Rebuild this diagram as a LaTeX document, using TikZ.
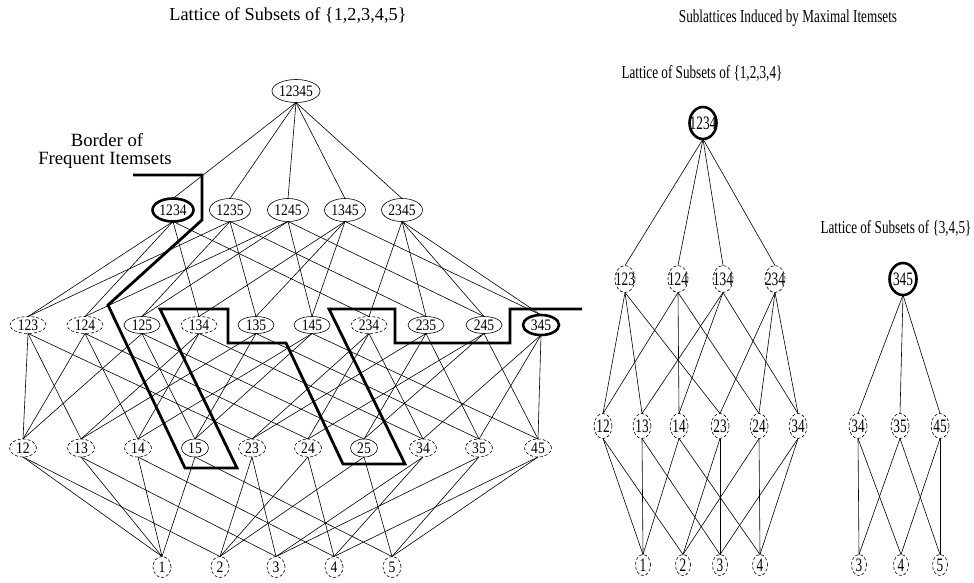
\documentclass[tikz,border=0pt]{standalone}
\usepackage{fontspec}
\usepackage{graphicx}
\setmainfont{Liberation Serif}
\usetikzlibrary{shapes.geometric}
\newcommand\LT[1]{\makebox[0pt]{\scalebox{0.85}[1]{#1}}}
\newcommand\RT[1]{\makebox[0pt]{\scalebox{0.7}[1]{#1}}}
\begin{document}
\begin{tikzpicture}[x=1pt,y=-1pt,
  base/.style={ellipse,draw,inner sep=0pt,outer sep=0pt},
  inf/.style={base,line width=0.6pt},
  frq/.style={base,line width=0.6pt,dash pattern=on 3pt off 2pt},
  mx/.style={base,line width=2.6pt},
  lf/.style={font=\fontsize{16}{16}\selectfont},
  rf/.style={font=\fontsize{19}{19}\selectfont},
  szA/.style={lf,minimum width=48pt,minimum height=23pt},
  szB/.style={lf,minimum width=41pt,minimum height=23pt},
  szC/.style={lf,minimum width=36pt,minimum height=17pt},
  szCm/.style={lf,minimum width=36pt,minimum height=20pt},
  szD/.style={lf,minimum width=27pt,minimum height=18pt},
  szE/.style={lf,minimum width=18pt,minimum height=21pt},
  rA/.style={rf,minimum width=27pt,minimum height=32pt},
  rC/.style={rf,minimum width=20pt,minimum height=27pt},
  rD/.style={rf,minimum width=18pt,minimum height=25pt},
  rE/.style={rf,minimum width=15pt,minimum height=21pt},
  edge/.style={line width=0.6pt},
  borderline/.style={line width=2.8pt,line join=miter},
  ttl/.style={font=\fontsize{18.3}{19}\selectfont,inner sep=0pt},
]
\useasboundingbox (0,0) rectangle (974,582);

% ---------- titles ----------
\node[ttl,anchor=base] (t1) at (288,20) {Lattice of Subsets of \{1,2,3,4,5\}};
\node[ttl,anchor=base] (t2) at (788,22) {\scalebox{0.72}[1]{Sublattices Induced by Maximal Itemsets}};
\node[ttl,anchor=base] (t3) at (702,78) {\scalebox{0.72}[1]{Lattice of Subsets of \{1,2,3,4\}}};
\node[ttl,anchor=base] (t4) at (896,233) {\scalebox{0.72}[1]{Lattice of Subsets of \{3,4,5\}}};
\node[ttl,anchor=base,font=\fontsize{18.7}{19}\selectfont] (b1) at (107,146) {Border of};
\node[ttl,anchor=base,font=\fontsize{18.7}{19}\selectfont] (b2) at (105,164) {Frequent Itemsets};

% ---------- left lattice nodes ----------
\node[inf,szA] (n12345) at (296,91) {\LT{12345}};
\foreach \n/\x/\s in {1234/173/mx,1235/230/inf,1245/288/inf,1345/345/inf,2345/402/inf}
  \node[\s,szB] (n\n) at (\x,210) {\LT{\n}};
\foreach \n/\x/\s in {123/28/frq,124/85/frq,125/142/inf,134/199/frq,135/256/inf,145/312/inf,234/369/frq,235/426/inf,245/484/inf}
  \node[\s,szC] (n\n) at (\x,325) {\LT{\n}};
\node[mx,szCm] (n345) at (541,325) {\LT{345}};
\foreach \n/\x/\s in {12/23/frq,13/81/frq,14/138/frq,15/195/inf,23/252/frq,24/308/frq,25/364/inf,34/423/frq,35/479/frq,45/538/frq}
  \node[\s,szD] (n\n) at (\x,448) {\LT{\n}};
\foreach \n/\x in {1/162,2/220,3/276,4/334,5/392}
  \node[frq,szE] (n\n) at (\x,567) {\LT{\n}};

% ---------- left lattice edges ----------
\foreach \a/\b in {12345/1234,12345/1235,12345/1245,12345/1345,12345/2345,
  1234/123,1234/124,1234/134,1234/234,1235/123,1235/125,1235/135,1235/235,
  1245/124,1245/125,1245/145,1245/245,1345/134,1345/135,1345/145,1345/345,
  2345/234,2345/235,2345/245,2345/345,
  123/12,123/13,123/23,124/12,124/14,124/24,125/12,125/15,125/25,
  134/13,134/14,134/34,135/13,135/15,135/35,145/14,145/15,145/45,
  234/23,234/24,234/34,235/23,235/25,235/35,245/24,245/25,245/45,
  345/34,345/35,345/45,
  12/1,12/2,13/1,13/3,14/1,14/4,15/1,15/5,23/2,23/3,24/2,24/4,25/2,25/5,
  34/3,34/4,35/3,35/5,45/4,45/5}
  \draw[edge] (n\a.south) -- (n\b.north);

% ---------- border of frequent itemsets ----------
\draw[borderline] (133,175) -- (202,175) -- (202,220) -- (108,305) -- (185,468)
  -- (237,468) -- (160,309) -- (228,309) -- (228,343) -- (286,343) -- (343,464)
  -- (405,464) -- (329,309) -- (395,309) -- (395,343) -- (510,343) -- (510,309)
  -- (582,309);

% ---------- sublattice {1,2,3,4} ----------
\node[mx,rA] (r1234) at (703,123) {\RT{1234}};
\foreach \n/\x in {123/625,124/678,134/723,234/775}
  \node[frq,rC] (r\n) at (\x,279) {\RT{\n}};
\foreach \n/\x in {12/603,13/642,14/679,23/720,24/759,34/798}
  \node[frq,rD] (r\n) at (\x,426) {\RT{\n}};
\foreach \n/\x in {1/643,2/683,3/720,4/760}
  \node[frq,rE] (r\n) at (\x,565) {\RT{\n}};
\foreach \a/\b in {1234/123,1234/124,1234/134,1234/234,
  123/12,123/13,123/23,124/12,124/14,124/24,134/13,134/14,134/34,234/23,234/24,234/34,
  12/1,12/2,13/1,13/3,14/1,14/4,23/2,23/3,24/2,24/4,34/3,34/4}
  \draw[edge] (r\a.south) -- (r\b.north);

% ---------- sublattice {3,4,5} ----------
\node[mx,rA] (s345) at (903,279) {\RT{345}};
\foreach \n/\x in {34/858,35/900,45/940}
  \node[frq,rD] (s\n) at (\x,426) {\RT{\n}};
\foreach \n/\x in {3/859,4/901,5/940}
  \node[frq,rE] (s\n) at (\x,565) {\RT{\n}};
\foreach \a/\b in {345/34,345/35,345/45,34/3,34/4,35/3,35/5,45/4,45/5}
  \draw[edge] (s\a.south) -- (s\b.north);
\end{tikzpicture}
\end{document}
